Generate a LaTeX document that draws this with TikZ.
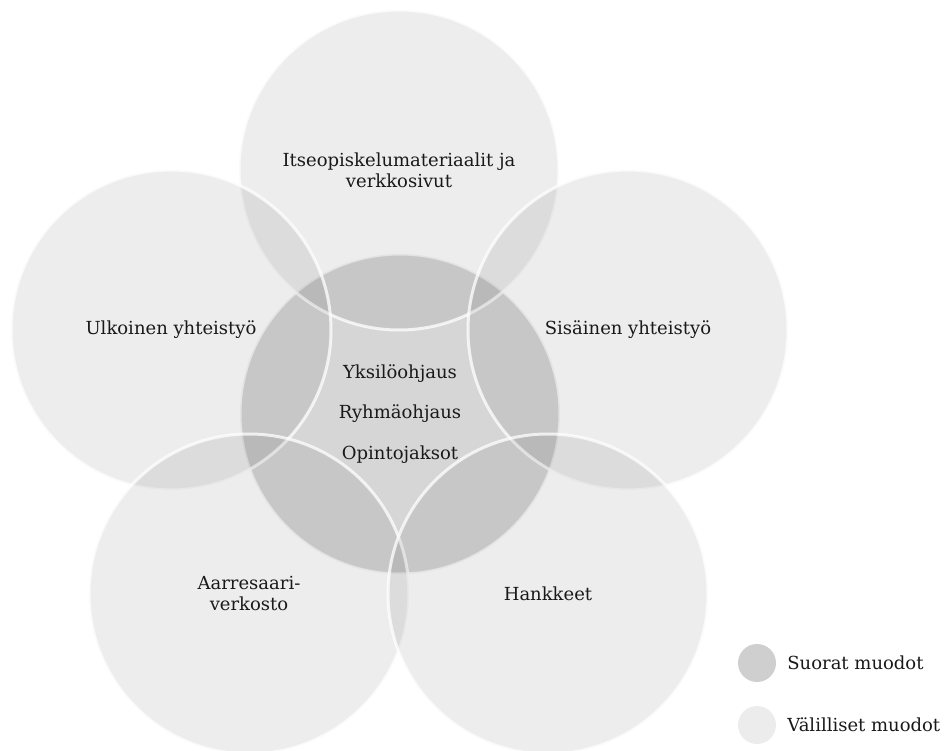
\documentclass[tikz,border=0pt]{standalone}
\usepackage{fontspec}
\setmainfont{DejaVu Serif}
\usetikzlibrary{positioning}

\tikzset{
    ring/.style={circle, minimum size=320pt, inner sep=0pt,
        draw=white, draw opacity=0.75, line width=3pt},
    valilliset/.style={ring, fill=black, fill opacity=0.07},
    suorat/.style={ring, fill=black, fill opacity=0.16},
    merkki/.style={circle, minimum size=38pt, inner sep=0pt, fill=black},
    teksti/.style={inner sep=0pt, align=center, text=black!90}
}

\begin{document}
\begin{tikzpicture}[x=1pt, y=-1pt, font=\fontsize{18}{21}\selectfont]
        \useasboundingbox (0,0) rectangle (945,751);

        % ympyrat
        \node[suorat] (keski) at (400,414) {};
        \node[valilliset] (ylin) at (399,170) {};
        \node[valilliset] (vasen) at (171,330) {};
        \node[valilliset] (oikea) at (628,330) {};
        \node[valilliset] (alavasen) at (249,594) {};
        \node[valilliset] (alaoikea) at (548,594) {};

        % tekstit
        \node[teksti] (itseopiskelu) at (ylin) {Itseopiskelumateriaalit ja\\verkkosivut};
        \node[teksti] (ulkoinen) at (vasen) {Ulkoinen yhteistyö};
        \node[teksti] (sisainen) at (oikea) {Sisäinen yhteistyö};
        \node[teksti] (aarresaari) at (alavasen) {Aarresaari-\\verkosto};
        \node[teksti] (hankkeet) at (alaoikea) {Hankkeet};
        \node[teksti] (ryhma) at (keski) {Ryhmäohjaus};
        \node[teksti, anchor=base] (yksilo) at ([yshift=40pt]ryhma.base) {Yksilöohjaus};
        \node[teksti, anchor=base] (opinto) at ([yshift=-41pt]ryhma.base) {Opintojaksot};

        % selite
        \node[merkki, fill opacity=0.19] (suoratmerkki) at (757,663) {};
        \node[teksti, right=11pt of suoratmerkki] (suoratteksti) {Suorat muodot};
        \node[merkki, fill opacity=0.075] (valillisetmerkki) at (757,725) {};
        \node[teksti, right=11pt of valillisetmerkki] (valillisetteksti) {Välilliset muodot};
    \end{tikzpicture}
\end{document}
